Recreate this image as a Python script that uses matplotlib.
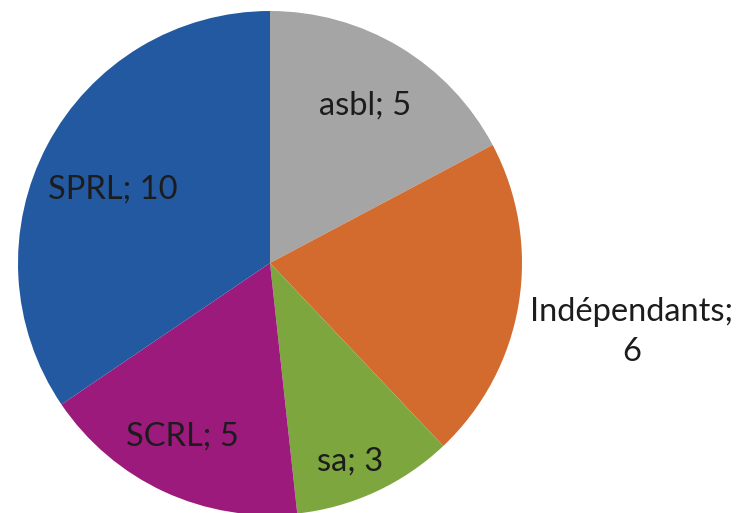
import numpy as np
import matplotlib
matplotlib.use("Agg")
import matplotlib.pyplot as plt

categories = ["asbl", "Indépendants", "sa", "SCRL", "SPRL"]
values = [5, 6, 3, 5, 10]
colors = ["#A5A5A5", "#D36B2E", "#7EA63F", "#9C1A7C", "#2259A1"]
# label text, radial distance (fraction of radius) and angle nudge (deg)
labels = ["asbl; 5", "Indépendants;\n6", "sa; 3", "SCRL; 5", "SPRL; 10"]
label_dist = [0.73, 1.46, 0.85, 0.77, 0.69]
label_nudge = [0, -1.5, -3, -2, 3]

fig = plt.figure(figsize=(7.42, 5.13), dpi=100)
ax = fig.add_axes([0, 0, 1, 1])
wedges, _ = ax.pie(values, colors=colors, startangle=90, counterclock=False,
                   radius=1.0, wedgeprops=dict(linewidth=0))

for w, lab, d, nd in zip(wedges, labels, label_dist, label_nudge):
    ang = np.deg2rad((w.theta1 + w.theta2) / 2 + nd)
    ax.text(d * np.cos(ang), d * np.sin(ang), lab, ha="center", va="center",
            fontsize=23.5, family="Lato", color="#1c1c1c", linespacing=1.4)

ax.set_xlim(-270 / 252, 472 / 252)
ax.set_ylim(-250 / 252, 263 / 252)
ax.set_aspect("equal")
ax.axis("off")
fig.savefig("out.png", dpi=100)
